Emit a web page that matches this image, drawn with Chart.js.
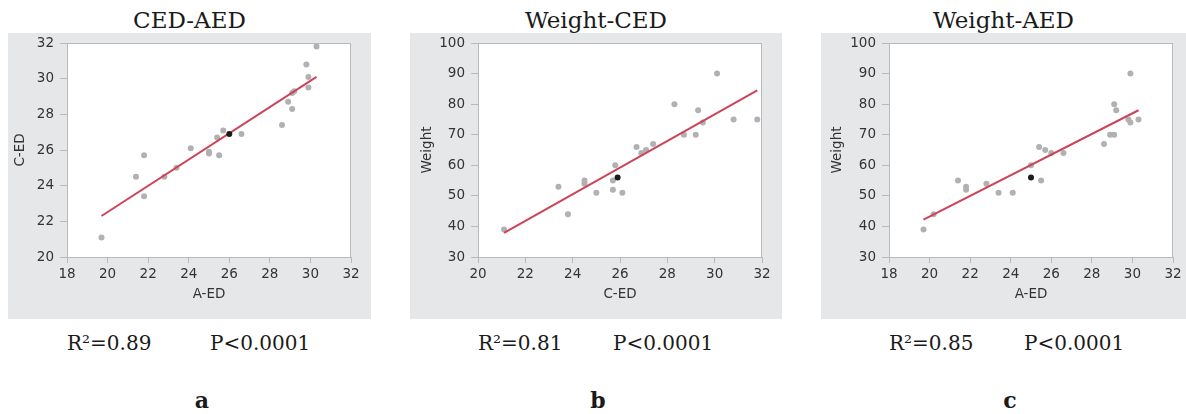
<!DOCTYPE html>
<html>
<head>
<meta charset="utf-8">
<script src="https://cdn.jsdelivr.net/npm/chart.js@4/dist/chart.umd.min.js"></script>
<style>
  body { margin: 0; width: 1186px; height: 414px; background: #fff; position: relative; overflow: hidden; }
  .box { position: absolute; top: 33px; height: 286px; background: #e6e7e8; }
  .box canvas { display: block; }
  .title, .stat, .tag { position: absolute; font-family: "DejaVu Serif", serif; color: #1a1a1a; white-space: nowrap; }
  .title { top: 9px; font-size: 23px; line-height: 23px; text-align: center; }
  .stat { top: 333px; font-size: 20px; line-height: 20px; }
  .tag { top: 389px; font-size: 22px; line-height: 22px; font-weight: bold; width: 40px; text-align: center; }
</style>
</head>
<body>
<div class="title" style="left:8px;width:363px">CED-AED</div>
<div class="title" style="left:410px;width:372px">Weight-CED</div>
<div class="title" style="left:821px;width:365px">Weight-AED</div>

<div class="box" style="left:8px;width:363px"><canvas id="chartA" width="363" height="286"></canvas></div>
<div class="box" style="left:410px;width:372px"><canvas id="chartB" width="372" height="286"></canvas></div>
<div class="box" style="left:821px;width:365px"><canvas id="chartC" width="365" height="286"></canvas></div>

<div class="stat" style="left:67px">R²=0.89</div>
<div class="stat" style="left:210px">P&lt;0.0001</div>
<div class="stat" style="left:478px">R²=0.81</div>
<div class="stat" style="left:613px">P&lt;0.0001</div>
<div class="stat" style="left:889px">R²=0.85</div>
<div class="stat" style="left:1024px">P&lt;0.0001</div>

<div class="tag" style="left:182px">a</div>
<div class="tag" style="left:578px">b</div>
<div class="tag" style="left:990px">c</div>

<script>
// panel a: A-ED (x) vs C-ED (y)
const aedA = [19.7, 21.4, 21.8, 21.8, 22.8, 23.4, 24.1, 25.0, 25.0, 25.4, 25.5, 25.7, 26.6, 28.6, 28.9, 29.1, 29.1, 29.2, 29.8, 29.9, 29.9, 30.3];
const cedA = [21.1, 24.5, 25.7, 23.4, 24.5, 25.0, 26.1, 25.9, 25.8, 26.7, 25.7, 27.1, 26.9, 27.4, 28.7, 28.3, 29.2, 29.3, 30.8, 30.1, 29.5, 31.8];
const markA = [26.0, 26.9];
const fitAx = [19.7, 30.3];
const fitAy = [22.3, 30.1];

// panel b: C-ED (x) vs Weight (y)
const cedB = [21.1, 23.4, 23.8, 24.5, 24.5, 25.0, 25.7, 25.7, 25.8, 26.1, 26.7, 26.9, 27.1, 27.4, 28.3, 28.7, 29.2, 29.3, 29.5, 30.1, 30.8, 31.8];
const weightB = [39, 53, 44, 55, 54, 51, 55, 52, 60, 51, 66, 64, 65, 67, 80, 70, 70, 78, 74, 90, 75, 75];
const markB = [25.9, 56];
const fitBx = [21.1, 31.8];
const fitBy = [37.9, 84.5];

// panel c: A-ED (x) vs Weight (y)
const aedC = [19.7, 20.2, 21.4, 21.8, 21.8, 22.8, 23.4, 24.1, 25.0, 25.4, 25.5, 25.7, 26.0, 26.6, 28.6, 28.9, 29.1, 29.1, 29.2, 29.8, 29.9, 29.9, 30.3];
const weightC = [39, 44, 55, 53, 52, 54, 51, 51, 60, 66, 55, 65, 64, 64, 67, 70, 70, 80, 78, 75, 74, 90, 75];
const markC = [25.0, 56];
const fitCx = [19.7, 30.3];
const fitCy = [42.2, 78.0];

const axisGray = '#b9b9bb';
const tickFont = { family: 'DejaVu Sans', size: 13.5 };

// white plot area + thin frame on all four sides
const plotFrame = {
    id: 'plotFrame',
    beforeDraw(chart) {
        const a = chart.chartArea;
        chart.ctx.save();
        chart.ctx.fillStyle = '#fff';
        chart.ctx.fillRect(a.left, a.top, a.right - a.left, a.bottom - a.top);
        chart.ctx.restore();
    },
    afterDraw(chart) {
        const a = chart.chartArea;
        const ctx = chart.ctx;
        ctx.save();
        ctx.strokeStyle = axisGray;
        ctx.lineWidth = 1;
        ctx.strokeRect(a.left + 0.5, a.top + 0.5, a.right - a.left - 1, a.bottom - a.top);
        ctx.restore();
    }
};

function toPoints(xs, ys) {
    return xs.map((x, i) => ({ x: x, y: ys[i] }));
}

function makeChart(id, opt) {
    return new Chart(document.getElementById(id), {
        type: 'scatter',
        data: {
            datasets: [
                {
                    data: [{ x: opt.mark[0], y: opt.mark[1] }],
                    pointRadius: 3, pointBorderWidth: 0,
                    backgroundColor: '#1b1b1b', order: 0
                },
                {
                    type: 'line',
                    data: toPoints(opt.fitX, opt.fitY),
                    borderColor: '#cb4457', borderWidth: 2,
                    pointRadius: 0, fill: false, order: 1
                },
                {
                    data: toPoints(opt.xs, opt.ys),
                    pointRadius: 3, pointBorderWidth: 0,
                    backgroundColor: '#b1b1b3', order: 2
                }
            ]
        },
        options: {
            responsive: false,
            animation: false,
            events: [],
            layout: { padding: { left: 0, top: 10, right: opt.padRight, bottom: 0 } },
            plugins: { legend: { display: false }, tooltip: { enabled: false } },
            scales: {
                x: {
                    type: 'linear',
                    min: opt.xMin, max: opt.xMax,
                    afterFit: s => { s.height = 62; s.paddingLeft = 0; s.paddingRight = 0; },
                    ticks: { stepSize: 2, color: '#333', font: tickFont, padding: 3 },
                    grid: { drawOnChartArea: false, tickLength: 6, color: axisGray },
                    border: { color: axisGray },
                    title: { display: true, text: opt.xTitle, color: '#333', font: tickFont, padding: { top: 0, bottom: 16 } }
                },
                y: {
                    type: 'linear',
                    min: opt.yMin, max: opt.yMax,
                    afterFit: s => { s.width = opt.plotLeft; s.paddingTop = 0; s.paddingBottom = 0; },
                    ticks: { stepSize: opt.yStep, color: '#333', font: tickFont, padding: 6 },
                    grid: { drawOnChartArea: false, tickLength: 7, color: axisGray },
                    border: { color: axisGray },
                    title: { display: true, text: opt.yTitle, color: '#333', font: tickFont, padding: { top: opt.yTitlePad, bottom: 0 } }
                }
            }
        },
        plugins: [plotFrame]
    });
}

makeChart('chartA', {
    xs: aedA, ys: cedA, mark: markA, fitX: fitAx, fitY: fitAy,
    xMin: 18, xMax: 32, yMin: 20, yMax: 32, yStep: 2,
    xTitle: 'A-ED', yTitle: 'C-ED', plotLeft: 59, padRight: 20, yTitlePad: 4
});
makeChart('chartB', {
    xs: cedB, ys: weightB, mark: markB, fitX: fitBx, fitY: fitBy,
    xMin: 20, xMax: 32, yMin: 30, yMax: 100, yStep: 10,
    xTitle: 'C-ED', yTitle: 'Weight', plotLeft: 68, padRight: 20, yTitlePad: 9
});
makeChart('chartC', {
    xs: aedC, ys: weightC, mark: markC, fitX: fitCx, fitY: fitCy,
    xMin: 18, xMax: 32, yMin: 30, yMax: 100, yStep: 10,
    xTitle: 'A-ED', yTitle: 'Weight', plotLeft: 68, padRight: 13, yTitlePad: 8
});
</script>
</body>
</html>
